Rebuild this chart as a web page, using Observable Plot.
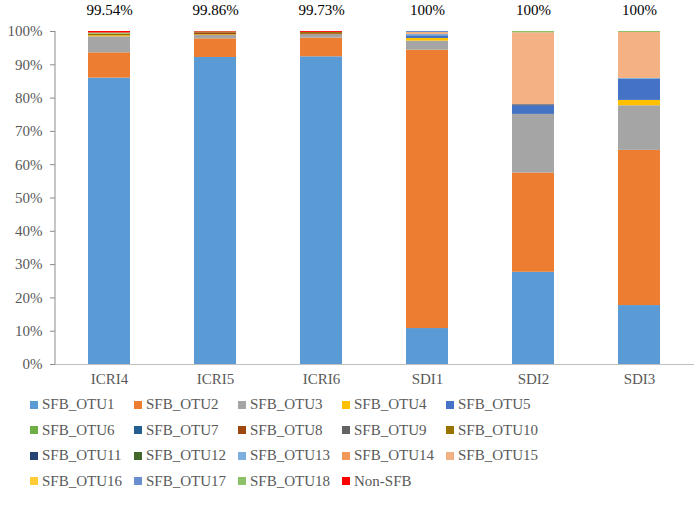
<!DOCTYPE html>
<html>
<head>
<meta charset="utf-8">
<script src="https://cdn.jsdelivr.net/npm/d3@7"></script>
<script src="https://cdn.jsdelivr.net/npm/@observablehq/plot@0.6"></script>
<style>
  body { margin: 0; background: #fff; font-family: "Liberation Serif", "Times New Roman", serif; }
  #wrap { width: 694px; height: 507px; position: relative; }
  #legend { display: grid; grid-template-columns: repeat(5, 104px); grid-auto-rows: 25.5px; padding-left: 30px; font-size: 15px; color: #595959; }
  .item { display: flex; align-items: center; white-space: nowrap; }
  .sw { width: 8px; height: 8px; margin-right: 4px; flex: none; }
</style>
</head>
<body>
<div id="wrap"></div>
<script>
const samples = ["ICRI4", "ICRI5", "ICRI6", "SDI1", "SDI2", "SDI3"];
const totals = ["99.54%", "99.86%", "99.73%", "100%", "100%", "100%"];
const series = ["SFB_OTU1","SFB_OTU2","SFB_OTU3","SFB_OTU4","SFB_OTU5","SFB_OTU6","SFB_OTU7","SFB_OTU8","SFB_OTU9","SFB_OTU10","SFB_OTU11","SFB_OTU12","SFB_OTU13","SFB_OTU14","SFB_OTU15","SFB_OTU16","SFB_OTU17","SFB_OTU18","Non-SFB"];
const colors = ["#5B9BD5","#ED7D31","#A5A5A5","#FFC000","#4472C4","#70AD47","#255E91","#9E480E","#636363","#997300","#264478","#43682B","#7CAFDD","#F1975A","#F4B183","#FFCD33","#698ED0","#8CC168","#FF0000"];
const yTicks = [0, 10, 20, 30, 40, 50, 60, 70, 80, 90, 100];

const OTU1  = [86.0, 92.2, 92.4, 10.8, 27.7, 17.7];
const OTU2  = [7.6, 5.6, 5.6, 83.6, 29.8, 46.6];
const OTU3  = [4.8, 1.0, 1.0, 2.7, 17.6, 13.4];
const OTU4  = [0.3, 0.2, 0, 0.8, 0, 1.6];
const OTU5  = [0, 0, 0, 0.6, 2.5, 6.3];
const OTU6  = [0, 0, 0, 0, 0, 0];
const OTU7  = [0, 0, 0, 0.2, 0, 0];
const OTU8  = [0.04, 0.6, 0.33, 0, 0, 0];
const OTU9  = [0, 0, 0, 0, 0, 0];
const OTU10 = [0.4, 0.26, 0.4, 0, 0, 0];
const OTU11 = [0, 0, 0, 0, 0.4, 0];
const OTU12 = [0, 0, 0, 0, 0, 0];
const OTU13 = [0, 0, 0, 0.4, 0, 0.3];
const OTU14 = [0, 0, 0, 0, 0, 0];
const OTU15 = [0, 0, 0, 0.6, 21.6, 13.8];
const OTU16 = [0, 0, 0, 0, 0, 0];
const OTU17 = [0, 0, 0, 0.3, 0, 0];
const OTU18 = [0.4, 0, 0, 0, 0.4, 0.3];
const NonSFB = [0.46, 0.14, 0.27, 0, 0, 0];

const values = [OTU1,OTU2,OTU3,OTU4,OTU5,OTU6,OTU7,OTU8,OTU9,OTU10,OTU11,OTU12,OTU13,OTU14,OTU15,OTU16,OTU17,OTU18,NonSFB];
const rows = [];
series.forEach((s, i) => samples.forEach((c, j) => rows.push({sample: c, series: s, value: values[i][j]})));
const tops = samples.map((c, j) => ({sample: c, label: totals[j]}));

const plot = Plot.plot({
  width: 694,
  height: 392,
  marginLeft: 55,
  marginRight: 0,
  marginTop: 31,
  marginBottom: 28,
  style: {fontFamily: "Liberation Serif, Times New Roman, serif", background: "#fff"},
  x: {domain: samples, paddingInner: 0.6, paddingOuter: 0.3},
  y: {domain: [0, 100]},
  color: {domain: series, range: colors},
  marks: [
    Plot.barY(rows, {x: "sample", y: "value", fill: "series", order: series}),
    Plot.ruleY([0], {stroke: "#BFBFBF"}),
    Plot.axisY({ticks: yTicks, tickFormat: d => d + "%", tickSize: 5, tickPadding: 8, fontSize: 15, stroke: "#8C8C8C", fill: "#595959", label: null}),
    Plot.axisX({tickSize: 0, tickPadding: 9, fontSize: 15, fill: "#595959", label: null}),
    Plot.text(tops, {x: "sample", y: () => 100, text: "label", dy: -21, fontSize: 15, fill: "#000"})
  ]
});

// y axis line
const ys = plot.scale("y");
d3.select(plot).append("line")
  .attr("x1", 55).attr("x2", 55)
  .attr("y1", ys.apply(0)).attr("y2", ys.apply(100))
  .attr("stroke", "#8C8C8C");

const wrap = document.getElementById("wrap");
wrap.appendChild(plot);

const legend = document.createElement("div");
legend.id = "legend";
series.forEach((s, i) => {
  const item = document.createElement("div");
  item.className = "item";
  const sw = document.createElement("span");
  sw.className = "sw";
  sw.style.background = colors[i];
  item.appendChild(sw);
  item.appendChild(document.createTextNode(s));
  legend.appendChild(item);
});
wrap.appendChild(legend);
</script>
</body>
</html>
